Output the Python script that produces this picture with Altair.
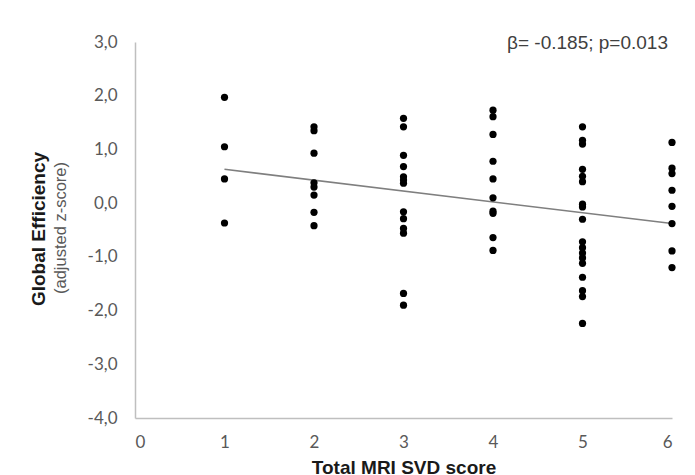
import altair as alt
import pandas as pd

# Data
svd_1 = [1.97, 1.05, 0.45, -0.37]
svd_2 = [1.42, 1.35, 0.93, 0.38, 0.30, 0.15, -0.17, -0.42]
svd_3 = [1.58, 1.42, 0.89, 0.68, 0.49, 0.43, 0.37, -0.16, -0.29, -0.47, -0.56, -1.68, -1.90]
svd_4 = [1.73, 1.61, 1.28, 0.78, 0.45, 0.10, -0.15, -0.19, -0.64, -0.88]
svd_5 = [1.42, 1.17, 1.10, 0.63, 0.50, 0.40, -0.02, -0.07, -0.30, -0.72, -0.83, -0.93,
         -1.02, -1.12, -1.38, -1.63, -1.74, -2.24]
svd_6 = [1.13, 0.65, 0.55, 0.24, -0.06, -0.38, -0.89, -1.20]

fit_x = [1, 6]
fit_y = [0.63, -0.38]

x_ticks = [0, 1, 2, 3, 4, 5, 6]
y_ticks = [3, 2, 1, 0, -1, -2, -3, -4]

annotation = "β= -0.185; p=0.013"
y_title = "Global Efficiency"
y_subtitle = "(adjusted z-score)"
x_title = "Total MRI SVD score"

rows = []
for score, vals in zip(range(1, 7), [svd_1, svd_2, svd_3, svd_4, svd_5, svd_6]):
    for v in vals:
        rows.append({"score": score, "eff": v})
pts = pd.DataFrame(rows)
fit = pd.DataFrame({"score": fit_x, "eff": fit_y})

W, H = 537, 376

xscale = alt.Scale(domain=[0, 6], nice=False, zero=False)
yscale = alt.Scale(domain=[-4, 3], nice=False, zero=False)

xaxis = alt.Axis(values=x_ticks, format="d", title=x_title, grid=False, ticks=False,
                 labelPadding=16, domainColor="#bfbfbf", domainWidth=1.5,
                 labelColor="#595959", labelFont="Lato", labelFontSize=17,
                 titleFont="Liberation Sans", titleFontSize=19, titleFontWeight="bold",
                 titleColor="#1a1a1a", titlePadding=8)
yaxis = alt.Axis(values=y_ticks, title=None, grid=False, ticks=False,
                 labelPadding=18, domainColor="#bfbfbf", domainWidth=1.5,
                 labelColor="#595959", labelFont="Lato", labelFontSize=17,
                 labelExpr="replace(replace(format(datum.value, '.1f'), '.', ','), '\u2212', '-')")

points = alt.Chart(pts).mark_circle(size=52, color="black", opacity=1).encode(
    x=alt.X("score:Q", scale=xscale, axis=xaxis),
    y=alt.Y("eff:Q", scale=yscale, axis=yaxis),
)

line = alt.Chart(fit).mark_line(color="#7f7f7f", strokeWidth=1.5).encode(
    x=alt.X("score:Q", scale=xscale),
    y=alt.Y("eff:Q", scale=yscale),
)

ann = alt.Chart(pd.DataFrame({"t": [annotation]})).mark_text(
    align="right", baseline="middle", font="Liberation Sans", fontSize=19,
    color="#404040"
).encode(x=alt.value(533), y=alt.value(1), text="t:N")

yt = alt.Chart(pd.DataFrame({"t": [y_title]})).mark_text(
    angle=270, align="center", baseline="middle", font="Liberation Sans", fontSize=19,
    fontWeight="bold", color="#1a1a1a"
).encode(x=alt.value(-96), y=alt.value(187), text="t:N")

yst = alt.Chart(pd.DataFrame({"t": [y_subtitle]})).mark_text(
    angle=270, align="center", baseline="middle", font="Liberation Sans", fontSize=16.5,
    color="#595959"
).encode(x=alt.value(-74), y=alt.value(186), text="t:N")

chart = alt.layer(line, points, ann, yt, yst).properties(
    width=W, height=H,
    autosize=alt.AutoSizeParams(type="none"),
    padding={"left": 127, "top": 34, "right": 14, "bottom": 60},
    background="white",
).configure_view(stroke=None)

chart.save("out.html", embed_options={"renderer": "svg", "actions": False})
